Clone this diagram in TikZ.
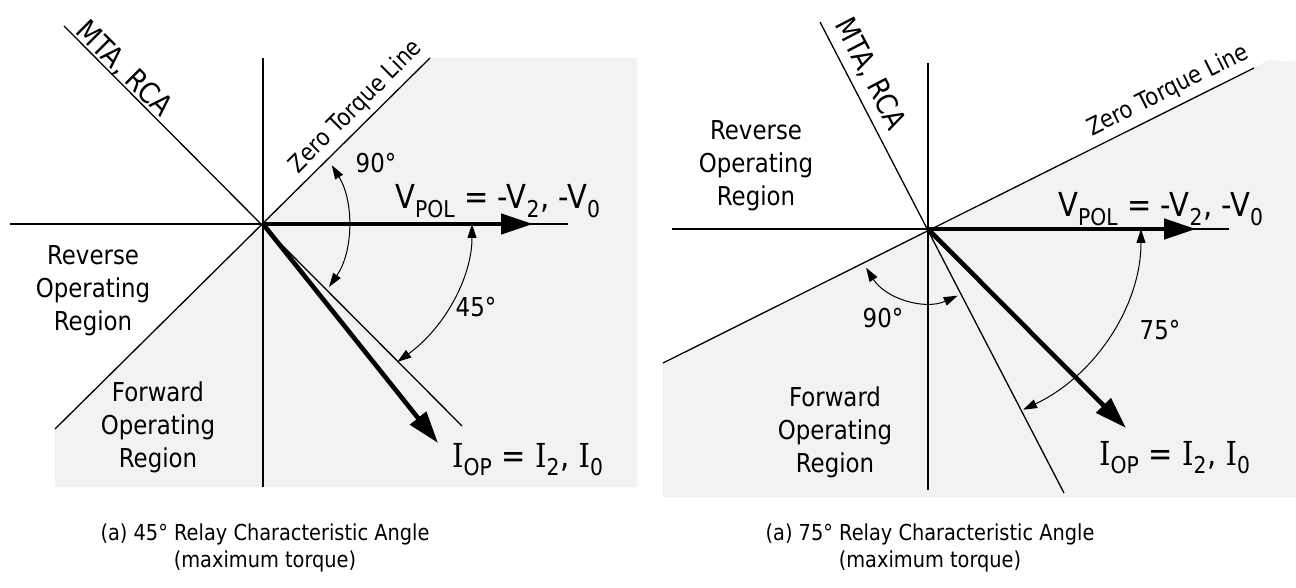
\documentclass[tikz,border=0pt]{standalone}
\usepackage{fontspec}
\setmainfont{DejaVu Sans}[FakeStretch=0.88]
\newfontfamily\serifI{DejaVu Serif}[FakeStretch=0.88]
\usepackage{xcolor}
\usepackage{tikz}
\usetikzlibrary{arrows.meta, calc}
\definecolor{regiongray}{RGB}{242,242,242}

\newcommand{\vpol}{V\textsubscript{POL} = -V\textsubscript{2}, -V\textsubscript{0}}
\newcommand{\iop}{{\serifI I}\textsubscript{OP} = {\serifI I}\textsubscript{2}, {\serifI I}\textsubscript{0}}

\begin{document}
\begin{tikzpicture}[x=1pt, y=-1pt,
    axisline/.style={line width=1.3pt},
    phasor/.style={line width=4.6pt, -{Triangle[length=32pt,width=20pt]}},
    anglemark/.style={line width=1pt, {Triangle[length=14pt,width=9pt]}-{Triangle[length=14pt,width=9pt]}},
    region/.style={align=center, font=\fontsize{26}{33}\selectfont},
    anglelabel/.style={font=\fontsize{26}{30}\selectfont},
    quantity/.style={anchor=base west, inner sep=0pt, font=\fontsize{33}{38}\selectfont},
    linename/.style={font=\fontsize{29}{32}\selectfont},
    torquename/.style={font=\fontsize{24}{27}\selectfont},
    caption/.style={align=center, font=\fontsize{22}{27}\selectfont}]
\useasboundingbox (0,0) rectangle (1296,588);

% (a) 45 degree characteristic
\coordinate (oL) at (263,224);
\coordinate (mtaLa) at (64,26);
\coordinate (mtaLb) at (462,426);
\coordinate (ztlLa) at (55,429);
\coordinate (ztlLb) at (430,58);
\coordinate (vpolL) at (533,224);
\coordinate (iopL) at (438,443);

\fill[regiongray] (ztlLa) -- (ztlLb) -- (637,58) -- (637,487) -- (55,487) -- cycle;
\draw[axisline] (10,224) -- (568,224);
\draw[axisline] (263,58) -- (263,487);
\draw[axisline] (mtaLa) -- (mtaLb);
\draw[axisline] (ztlLa) -- (ztlLb);
\draw[phasor] (oL) -- (vpolL);
\draw[phasor] (oL) -- (iopL);
\draw[anglemark] (oL) ++(-36:85 and 100) arc[start angle=-36, end angle=39, x radius=85, y radius=100];
\draw[anglemark] (oL) ++(0:209 and 180) arc[start angle=0, end angle=50, x radius=209, y radius=180];

\node[linename, rotate=-45] (mtaTextL) at (124,69) {MTA, RCA};
\node[torquename, rotate=45] (ztlTextL) at (356,107) {Zero Torque Line};
\node[anglelabel] (deg90L) at (376,163) {90°};
\node[anglelabel] (deg45L) at (476,307) {45°};
\node[quantity] (vpolTextL) at (395,209) {\vpol};
\node[quantity] (iopTextL) at (452,467) {\iop};
\node[region] (reverseL) at (93,291) {Reverse\\Operating\\Region};
\node[region] (forwardL) at (158,427) {Forward\\Operating\\Region};
\node[caption] (captionL) at (265,548) {(a) 45° Relay Characteristic Angle\\(maximum torque)};

% (a) 75 degree characteristic
\coordinate (oR) at (928,229);
\coordinate (mtaRa) at (820,22);
\coordinate (mtaRb) at (1064,493);
\coordinate (ztlRa) at (663,363);
\coordinate (ztlRb) at (1254,68);
\coordinate (vpolR) at (1196,229);
\coordinate (iopR) at (1126,428);

\fill[regiongray] (ztlRa) -- (ztlRb) -- (1268,60) -- (1296,62) -- (1296,497) -- (663,497) -- cycle;
\draw[axisline] (672,229) -- (1229,229);
\draw[axisline] (928,63) -- (928,490);
\draw[axisline] (mtaRa) -- (mtaRb);
\draw[axisline] (ztlRa) -- (ztlRb);
\draw[phasor] (oR) -- (vpolR);
\draw[phasor] (oR) -- (iopR);
\draw[anglemark] (oR) ++(148:73) arc[start angle=148, end angle=66, radius=73];
\draw[anglemark] (oR) ++(0:213 and 202) arc[start angle=0, end angle=63.5, x radius=213, y radius=202];

\node[linename, rotate=-62.5] (mtaTextR) at (870,74) {MTA, RCA};
\node[torquename, rotate=26.5] (ztlTextR) at (1168,91) {Zero Torque Line};
\node[anglelabel] (deg90R) at (883,318) {90°};
\node[anglelabel] (deg75R) at (1160,330) {75°};
\node[quantity] (vpolTextR) at (1058,217) {\vpol};
\node[quantity] (iopTextR) at (1099,465) {\iop};
\node[region] (reverseR) at (756,166) {Reverse\\Operating\\Region};
\node[region] (forwardR) at (835,432) {Forward\\Operating\\Region};
\node[caption] (captionR) at (930,548) {(a) 75° Relay Characteristic Angle\\(maximum torque)};
\end{tikzpicture}
\end{document}
